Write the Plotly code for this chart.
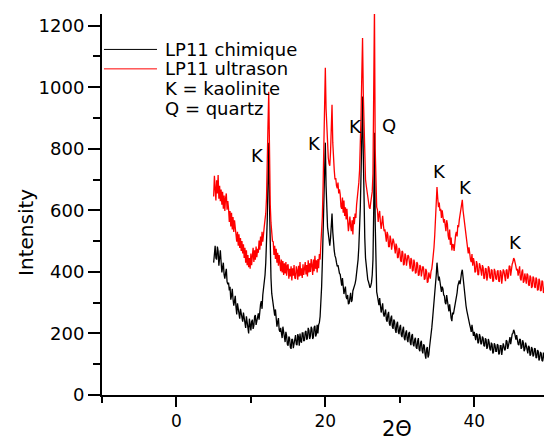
import numpy as np
import plotly.graph_objects as go

# 2-theta grid (degrees), step 0.1 from 5.0 to 50.4
two_theta_start = 5.0
two_theta_step = 0.1

# LP11 chimique (black) intensities, one row per degree
chimique = [
    430, 478, 485, 445, 440, 482, 468, 420, 450, 470,
    432, 398, 415, 430, 392, 378, 395, 410, 368, 360,
    365, 340, 352, 310, 322, 345, 312, 290, 305, 322,
    285, 262, 298, 282, 258, 248, 280, 265, 250, 238,
    268, 245, 232, 218, 256, 240, 222, 200, 248, 230,
    210, 238, 245, 215, 225, 255, 260, 228, 242, 262,
    265, 245, 282, 295, 305, 280, 325, 345, 352, 390,
    430, 490, 570, 700, 820, 620, 460, 380, 330, 312,
    305, 270, 258, 278, 242, 222, 238, 250, 212, 205,
    218, 192, 185, 222, 208, 180, 172, 205, 192, 165,
    160, 190, 185, 155, 150, 182, 180, 152, 170, 195,
    195, 165, 162, 198, 188, 160, 200, 175, 170, 202,
    202, 175, 178, 205, 208, 180, 185, 218, 210, 182,
    192, 222, 215, 182, 188, 220, 225, 190, 198, 228,
    200, 228, 235, 255, 290, 350, 430, 540, 660, 760,
    820, 680, 575, 545, 525, 500, 485, 510, 545, 590,
    530, 478, 468, 452, 445, 430, 418, 422, 402, 395,
    392, 365, 355, 380, 345, 328, 342, 352, 318, 312,
    325, 295, 298, 322, 332, 302, 308, 338, 345, 352,
    362, 375, 395, 415, 440, 480, 530, 610, 720, 850,
    970, 780, 610, 510, 445, 410, 385, 375, 368, 352,
    348, 355, 365, 390, 440, 600, 852, 560, 385, 335,
    322, 300, 292, 315, 285, 268, 282, 298, 265, 255,
    268, 278, 245, 238, 262, 270, 232, 225, 250, 258,
    222, 215, 245, 240, 212, 202, 230, 238, 205, 198,
    220, 228, 195, 188, 212, 222, 185, 178, 202, 210,
    180, 172, 200, 205, 172, 162, 192, 198, 165, 158,
    180, 186, 155, 150, 175, 185, 148, 142, 170, 176,
    145, 135, 165, 160, 132, 118, 150, 156, 122, 130,
    155, 172, 195, 218, 245, 270, 298, 325, 355, 390,
    430, 395, 372, 385, 362, 350, 335, 352, 345, 325,
    322, 300, 295, 325, 310, 280, 272, 295, 262, 250,
    240, 268, 262, 275, 285, 300, 318, 332, 355, 365,
    372, 360, 385, 398, 407, 380, 345, 325, 305, 290,
    275, 262, 245, 230, 228, 218, 205, 228, 200, 192,
    205, 185, 178, 200, 196, 168, 172, 198, 190, 165,
    168, 190, 185, 160, 158, 184, 180, 150, 156, 182,
    172, 150, 145, 170, 165, 135, 140, 168, 162, 142,
    142, 165, 162, 132, 135, 160, 160, 130, 155, 168,
    158, 145, 150, 178, 175, 150, 160, 186, 188, 165,
    185, 198, 200, 212, 205, 188, 180, 195, 175, 165,
    162, 182, 180, 150, 155, 178, 170, 142, 148, 170,
    160, 138, 135, 160, 155, 128, 132, 156, 150, 125,
    130, 152, 150, 120, 122, 146, 142, 112, 120, 140,
    135, 112, 110, 138, 128, 100, 106, 132, 125, 102,
    145, 135, 122, 118, 138,
]

# LP11 ultrason (red) intensities, one row per degree
ultrason = [
    645, 712, 672, 632, 698, 655, 715, 638, 680, 630,
    668, 618, 660, 605, 648, 598, 640, 655, 602, 630,
    605, 562, 598, 548, 592, 538, 578, 530, 568, 545,
    538, 498, 530, 485, 522, 478, 510, 468, 500, 460,
    490, 445, 478, 430, 470, 422, 455, 415, 445, 410,
    460, 422, 452, 478, 432, 470, 440, 482, 448, 475,
    462, 502, 472, 515, 485, 530, 498, 545, 548, 570,
    590, 640, 720, 880, 985, 760, 620, 560, 525, 500,
    498, 455, 485, 442, 475, 430, 462, 420, 455, 418,
    402, 440, 398, 435, 390, 428, 395, 432, 388, 420,
    425, 378, 410, 385, 418, 372, 412, 388, 422, 380,
    378, 418, 405, 375, 420, 385, 432, 388, 412, 380,
    425, 390, 415, 432, 392, 422, 385, 438, 398, 428,
    400, 442, 422, 390, 440, 402, 452, 410, 438, 398,
    442, 412, 458, 440, 490, 520, 580, 680, 820, 950,
    1063, 930, 860, 790, 770, 752, 745, 790, 850, 943,
    820, 740, 730, 700, 705, 680, 672, 690, 655, 668,
    652, 612, 605, 642, 592, 632, 582, 610, 570, 605,
    572, 532, 555, 580, 548, 532, 568, 522, 578, 555,
    590, 575, 618, 640, 660, 690, 730, 800, 910, 1040,
    1160, 980, 860, 760, 700, 680, 655, 640, 628, 610,
    605, 625, 640, 660, 720, 900, 1260, 800, 630, 610,
    602, 562, 585, 598, 562, 540, 560, 582, 552, 532,
    538, 508, 498, 530, 520, 482, 482, 518, 505, 472,
    485, 508, 498, 462, 460, 492, 482, 445, 448, 478,
    470, 438, 432, 468, 465, 422, 425, 460, 452, 420,
    432, 455, 450, 412, 410, 445, 438, 402, 405, 440,
    428, 395, 398, 432, 425, 388, 390, 422, 418, 385,
    400, 418, 412, 375, 378, 410, 402, 365, 368, 398,
    388, 378, 402, 410, 430, 450, 480, 520, 560, 620,
    676, 640, 610, 625, 598, 605, 575, 600, 585, 560,
    572, 542, 532, 568, 555, 518, 505, 538, 488, 512,
    470, 490, 488, 468, 505, 520, 530, 515, 552, 545,
    570, 590, 605, 620, 634, 600, 580, 560, 530, 515,
    498, 478, 460, 480, 448, 440, 432, 458, 420, 445,
    432, 398, 402, 435, 425, 390, 392, 428, 420, 388,
    388, 422, 415, 378, 380, 412, 410, 372, 385, 418,
    412, 382, 378, 408, 405, 368, 372, 410, 402, 378,
    375, 402, 405, 370, 368, 405, 400, 362, 378, 408,
    402, 375, 370, 405, 408, 378, 385, 420, 418, 388,
    418, 425, 432, 445, 440, 422, 418, 405, 410, 388,
    405, 418, 378, 372, 400, 408, 365, 370, 395, 362,
    362, 395, 390, 358, 355, 388, 382, 348, 352, 385,
    380, 352, 348, 382, 375, 340, 342, 378, 370, 338,
    340, 372, 368, 332, 335, 370, 362, 330, 338, 365,
    485, 352, 360, 335, 345,
]

# Peak labels
peak_labels = ["K", "K", "K", "Q", "K", "K", "K"]
peak_x = [10.9, 18.6, 24.0, 28.5, 35.4, 38.8, 45.5]
peak_y = [777, 816, 874, 877, 725, 673, 494]

series_names = ["LP11 chimique", "LP11 ultrason"]
legend_notes = ["K = kaolinite", "Q = quartz"]

x_vals = np.round(two_theta_start + two_theta_step * np.arange(len(chimique)), 2)

FONT = "DejaVu Sans"

fig = go.Figure()
fig.add_trace(go.Scatter(x=x_vals, y=chimique, mode="lines", name=series_names[0],
                         line=dict(color="black", width=1.3)))
fig.add_trace(go.Scatter(x=x_vals, y=ultrason, mode="lines", name=series_names[1],
                         line=dict(color="red", width=1.3)))

for lab, px, py in zip(peak_labels, peak_x, peak_y):
    fig.add_annotation(x=px, y=py, xref="x", yref="y", text=lab, showarrow=False,
                       font=dict(family=FONT, size=18, color="black"),
                       xanchor="center", yanchor="middle")

# manual legend
leg_y = [0.907, 0.856]
leg_col = ["black", "red"]
for name, ly, col in zip(series_names, leg_y, leg_col):
    fig.add_shape(type="line", xref="paper", yref="paper", x0=0.0044, x1=0.1222,
                  y0=ly, y1=ly, line=dict(color=col, width=1))
    fig.add_annotation(x=0.1356, y=ly, xref="paper", yref="paper", text=name,
                       showarrow=False, xanchor="left", yanchor="middle",
                       font=dict(family=FONT, size=18, color="black"))
for note, ly in zip(legend_notes, [0.8045, 0.7507]):
    fig.add_annotation(x=0.1356, y=ly, xref="paper", yref="paper", text=note,
                       showarrow=False, xanchor="left", yanchor="middle",
                       font=dict(family=FONT, size=18, color="black"))

# axis titles
fig.add_annotation(x=-0.169, y=0.428, xref="paper", yref="paper", text="Intensity",
                   textangle=-90, showarrow=False, xanchor="center", yanchor="middle",
                   font=dict(family=FONT, size=20, color="black"))
fig.add_annotation(x=0.656, y=-0.089, xref="paper", yref="paper", text="2Θ",
                   showarrow=False, xanchor="center", yanchor="middle",
                   font=dict(family=FONT, size=21, color="black"))

# page body has an 8px margin, so the figure is sized to fit inside the window
fig.update_layout(
    width=544, height=431,
    margin=dict(l=94, r=0, t=6, b=44),
    paper_bgcolor="white", plot_bgcolor="white",
    showlegend=False,
    font=dict(family=FONT, color="black"),
)
fig.update_xaxes(range=[-10, 50.45], tick0=0, dtick=20, showline=True, linecolor="black",
                 linewidth=2, ticks="outside", ticklen=10, tickwidth=2, tickcolor="black",
                 showgrid=False, zeroline=False, mirror=False, automargin=False,
                 tickfont=dict(family=FONT, size=17, color="black"),
                 minor=dict(dtick=10, tick0=0, ticks="outside", ticklen=6, tickwidth=2,
                            tickcolor="black", showgrid=False))
fig.update_yaxes(range=[0, 1238], tick0=0, dtick=200, showline=True, linecolor="black",
                 linewidth=2, ticks="outside", ticklen=12, tickwidth=2, tickcolor="black",
                 showgrid=False, zeroline=False, mirror=False, automargin=False,
                 tickfont=dict(family=FONT, size=18, color="black"),
                 minor=dict(dtick=100, tick0=0, ticks="outside", ticklen=7, tickwidth=2,
                            tickcolor="black", showgrid=False))

fig.write_html("out.html")
